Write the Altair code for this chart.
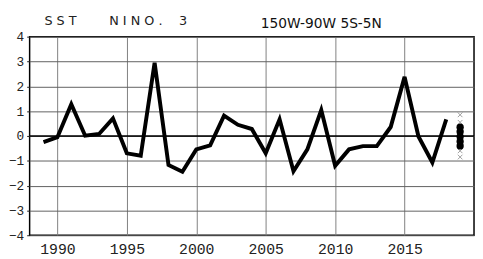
import altair as alt
import pandas as pd

years = list(range(1989, 2019))
sst = [-0.25, -0.05, 1.28, 0.01, 0.08, 0.71, -0.70, -0.80, 2.95, -1.17,
       -1.44, -0.54, -0.38, 0.82, 0.45, 0.28, -0.70, 0.67, -1.42, -0.54,
       1.04, -1.20, -0.54, -0.41, -0.41, 0.36, 2.38, -0.02, -1.07, 0.67]

ens_year = 2019
ens_dots = [0.35, 0.17, -0.03, -0.22, -0.40]
ens_cross = [0.85, 0.55, -0.60, -0.85]

title_parts = ["S S T", "N I N O .", "3"]
region_label = "150W-90W 5S-5N"

df = pd.DataFrame({"year": years, "sst": sst})
dots = pd.DataFrame({"year": [ens_year] * len(ens_dots), "v": ens_dots})
crosses = pd.DataFrame({"year": [ens_year] * len(ens_cross), "v": ens_cross})

xscale = alt.Scale(domain=[1988, 2020], nice=False, zero=False)
yscale = alt.Scale(domain=[-4, 4], nice=False)

xaxis = alt.Axis(values=[1990, 1995, 2000, 2005, 2010, 2015], format="d",
                 grid=True, gridColor="#808080", gridWidth=1,
                 ticks=False, domain=False, title=None,
                 labelFont="Liberation Mono", labelFontSize=15,
                 labelColor="#222", labelPadding=7)
yaxis = alt.Axis(values=[-4, -3, -2, -1, 0, 1, 2, 3, 4], grid=True,
                 gridColor="#606060", gridWidth=1, ticks=True, tickSize=3,
                 tickColor="#222", domain=False, title=None,
                 labelFont="Liberation Mono", labelFontSize=13,
                 labelColor="#222", labelPadding=3, labelOverlap=False)

X = lambda f: alt.X(f, scale=xscale, axis=xaxis)
Y = lambda f: alt.Y(f, scale=yscale, axis=yaxis)

line = alt.Chart(df).mark_line(color="black", strokeWidth=4,
                               strokeJoin="miter", strokeCap="butt").encode(
    x=X("year:Q"), y=Y("sst:Q"))

zero = alt.Chart(pd.DataFrame({"z": [0]})).mark_rule(
    color="black", strokeWidth=1.5).encode(y=Y("z:Q"))

cross_layer = alt.Chart(crosses).mark_point(
    shape="M-1,-1L1,1M1,-1L-1,1", size=22, color="#777", strokeWidth=1,
    filled=False).encode(x=X("year:Q"), y=Y("v:Q"))

dot_layer = alt.Chart(dots).mark_circle(size=55, color="black", opacity=1).encode(
    x=X("year:Q"), y=Y("v:Q"))

title_xs = [15, 81, 152]
texts = []
for part, px in zip(title_parts, title_xs):
    texts.append(
        alt.Chart(pd.DataFrame({"t": [part]})).mark_text(
            font="DejaVu Sans", fontSize=13, align="left",
            baseline="alphabetic", color="#222").encode(
            text="t:N", x=alt.value(px), y=alt.value(-12)))

sub = alt.Chart(pd.DataFrame({"t": [region_label]})).mark_text(
    font="DejaVu Sans", fontSize=14, align="left", baseline="alphabetic",
    color="#111").encode(text="t:N", x=alt.value(235), y=alt.value(-9))

chart = alt.layer(zero, line, cross_layer, dot_layer, *texts, sub).properties(
    width=452, height=202,
    autosize=alt.AutoSizeParams(type="none"),
    padding={"left": 22, "top": 27, "right": 1, "bottom": 21},
).configure_view(stroke="black", strokeWidth=1.5)

chart.save("out.html", embed_options={"renderer": "svg", "actions": False})
